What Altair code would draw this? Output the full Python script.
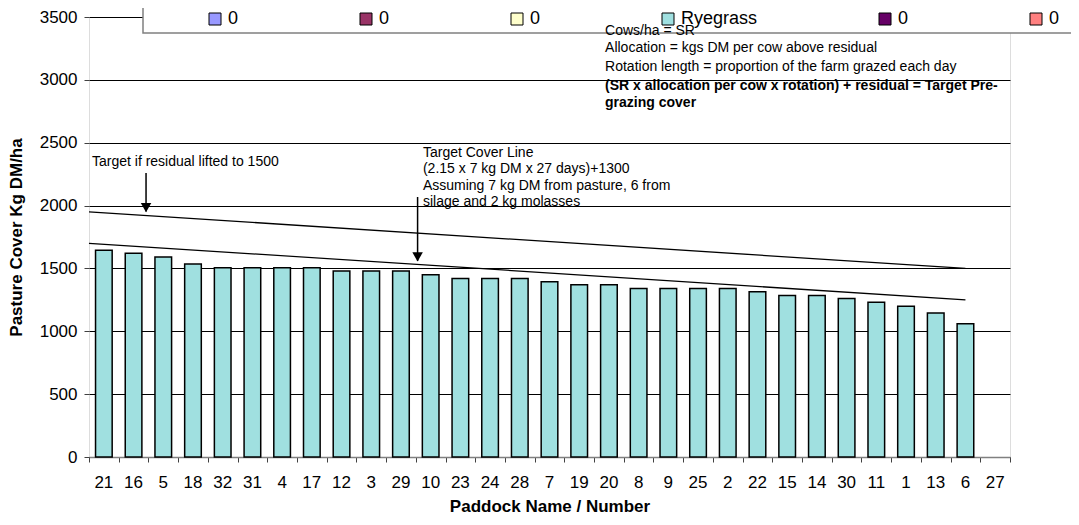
import altair as alt
import pandas as pd

# ---------------- data ----------------
paddocks = ["21", "16", "5", "18", "32", "31", "4", "17", "12", "3", "29", "10", "23", "24", "28",
            "7", "19", "20", "8", "9", "25", "2", "22", "15", "14", "30", "11", "1", "13", "6", "27"]
cover = [1645, 1620, 1590, 1535, 1505, 1505, 1505, 1505, 1480, 1480, 1480, 1450, 1420, 1420, 1420,
         1395, 1370, 1370, 1340, 1340, 1340, 1340, 1315, 1285, 1285, 1260, 1230, 1200, 1145, 1060, None]

series_names = ["s1", "s2", "s3", "Ryegrass", "s5", "s6"]
series_labels = ["0", "0", "0", "Ryegrass", "0", "0"]
series_colors = ["#9999FF", "#993366", "#FFFFCC", "#A0E0E0", "#660066", "#FF8080"]

line_pos = [0, 29.5]
target_line = [1700, 1250]
residual_line = [1950, 1500]

arrow_x = [1.92, 11.06]
arrow_from = [2259, 2068]
arrow_to = [1952, 1560]

note_x = [0.1, 11.24, 11.24, 11.24, 11.24, 17.37, 17.37, 17.37, 17.37, 17.37]
note_y = [2347, 2421, 2291, 2158, 2029, 3387, 3251, 3105, 2954, 2814]
note_text = [
    "Target if residual lifted to 1500",
    "Target Cover Line",
    "(2.15 x 7 kg DM x 27 days)+1300",
    "Assuming 7 kg DM from pasture, 6 from",
    "silage and 2 kg molasses",
    "Cows/ha = SR",
    "Allocation = kgs DM per cow above residual",
    "Rotation length = proportion of the farm grazed each day",
    "(SR x allocation per cow x rotation) + residual = Target Pre-",
    "grazing cover",
]
note_bold = [False, False, False, False, False, False, False, False, True, True]

y_ticks = [0, 500, 1000, 1500, 2000, 2500, 3000, 3500]

FONT = "Liberation Sans"

# ---------------- tables ----------------
bars_df = pd.DataFrame({"paddock": paddocks, "cover": cover, "series": "Ryegrass"})
lines_df = pd.DataFrame({
    "x": line_pos * 2,
    "y": target_line + residual_line,
    "which": ["target"] * 2 + ["residual"] * 2,
})
arrows_df = pd.DataFrame({"x": arrow_x, "y": arrow_from, "y2": arrow_to})
notes_df = pd.DataFrame({"x": note_x, "y": note_y, "text": note_text, "bold": note_bold})

label_expr = " : ".join(
    f"datum.label == '{n}' ? '{l}'" for n, l in zip(series_names[:-1], series_labels[:-1])
) + f" : '{series_labels[-1]}'"

yscale = alt.Scale(domain=[0, 3500], nice=False)
yaxis = alt.Axis(values=y_ticks, format="d", grid=True, gridColor="black", gridWidth=1, domain=False,
                 tickColor="#404040", tickSize=5, labelPadding=7, labelFontSize=17, labelFont=FONT,
                 labelColor="black", title="Pasture Cover Kg DM/ha", titleFontSize=17,
                 titleFont=FONT, titleFontWeight="bold", titleColor="black",
                 titleX=-73, titleY=220, titleBaseline="middle", titleAngle=270)

bars = alt.Chart(bars_df).mark_bar(stroke="black", strokeWidth=1.5).encode(
    x=alt.X("paddock:N", sort=paddocks,
            scale=alt.Scale(domain=paddocks, paddingInner=0.44, paddingOuter=0.22),
            axis=alt.Axis(ticks=False, domain=False, labelAngle=0, labelFontSize=17, labelFont=FONT,
                          labelColor="black", labelPadding=17, title="Paddock Name / Number",
                          titleFontSize=17, titleFont=FONT, titleFontWeight="bold", titleColor="black",
                          titleY=49, titleBaseline="middle")),
    y=alt.Y("cover:Q", scale=yscale, axis=yaxis),
    color=alt.Color("series:N",
                    scale=alt.Scale(domain=series_names, range=series_colors),
                    legend=alt.Legend(orient="none", legendX=117, legendY=-7, direction="horizontal",
                                      columns=6, symbolType="square", symbolSize=144,
                                      symbolStrokeColor="black", symbolStrokeWidth=1,
                                      labelFontSize=18, labelFont=FONT, labelColor="black",
                                      labelOffset=4, columnPadding=118, padding=0, title=None,
                                      labelExpr=label_expr)),
)

xq = alt.X("x:Q", scale=alt.Scale(domain=[0, 31], nice=False, zero=False),
           axis=alt.Axis(values=list(range(32)), labels=False, tickSize=5, tickColor="#404040",
                         grid=False, domainColor="#808080", domainWidth=1.5, orient="bottom",
                         title=None))

legend_box = alt.Chart(alt.Data(values=[{}])).mark_rect(
    fill="white", stroke="#808080", strokeWidth=1.5).encode(
    x=alt.value(54), x2=alt.value(990), y=alt.value(-14), y2=alt.value(16)
)
lines = alt.Chart(lines_df).mark_line(color="black", strokeWidth=1.3).encode(
    x=xq, y=alt.Y("y:Q", scale=yscale), detail="which:N"
)
arrow_lines = alt.Chart(arrows_df).mark_rule(color="black", strokeWidth=1.5).encode(
    x=xq, y=alt.Y("y:Q", scale=yscale), y2="y2:Q"
)
arrow_heads = alt.Chart(arrows_df).mark_point(shape="triangle-down", filled=True, color="black",
                                               size=110, opacity=1, yOffset=-4).encode(
    x=xq, y=alt.Y("y2:Q", scale=yscale)
)
notes_plain = alt.Chart(notes_df).transform_filter("!datum.bold").mark_text(
    align="left", baseline="middle", fontSize=14, font=FONT, color="black").encode(
    x=xq, y=alt.Y("y:Q", scale=yscale), text="text:N")
notes_bold = alt.Chart(notes_df).transform_filter("datum.bold").mark_text(
    align="left", baseline="middle", fontSize=14, font=FONT, fontWeight="bold", color="black").encode(
    x=xq, y=alt.Y("y:Q", scale=yscale), text="text:N")

overlay = alt.layer(lines, arrow_lines, arrow_heads, legend_box, notes_plain, notes_bold)

chart = alt.layer(bars, overlay).resolve_scale(x="independent").resolve_axis(x="independent").properties(
    width=921, height=440,
    autosize=alt.AutoSizeParams(type="none"),
    padding={"left": 81, "top": 9, "right": 61, "bottom": 60},
    background="white",
).configure_view(fill="#FBEFD9", stroke="#808080", strokeWidth=1.5).configure(font=FONT)

chart.save("out.html", embed_options={"renderer": "svg", "actions": False})
